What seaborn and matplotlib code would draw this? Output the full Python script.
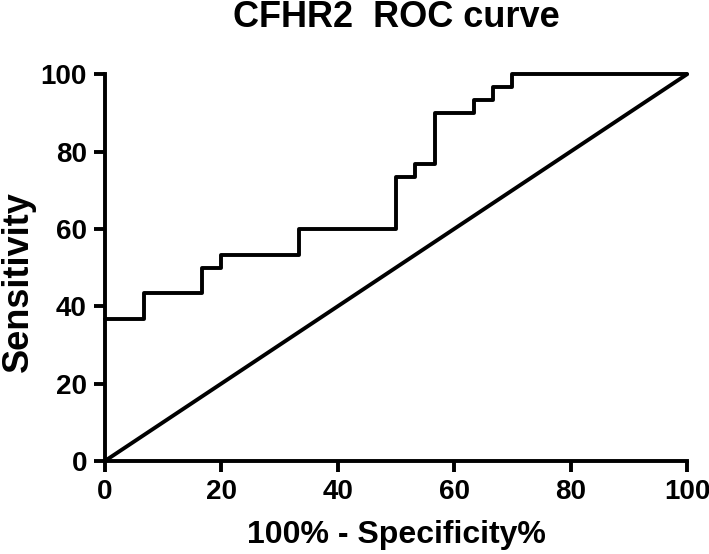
import matplotlib
matplotlib.use("Agg")
import seaborn as sns
from matplotlib import pyplot as plt

# ROC step curve for CFHR2
fpr = [0, 6.67, 16.67, 20, 33.33, 50, 53.33, 56.67, 63.33, 66.67, 70, 100]
tpr = [36.67, 43.33, 50, 53.33, 60, 73.33, 76.67, 90, 93.33, 96.67, 100, 100]
ref_x = [0, 100]
ref_y = [0, 100]
ticks = [0, 20, 40, 60, 80, 100]

sns.set_style("ticks")
plt.rcParams['font.family'] = ['Liberation Sans', 'DejaVu Sans']
plt.rcParams['font.weight'] = 'bold'
for key in ["text.color", "axes.labelcolor", "xtick.color", "ytick.color"]:
    plt.rcParams[key] = "black"

fig = plt.figure(figsize=(7.09, 5.54), dpi=100)
ax = fig.add_axes([0.148, 0.168, 0.821, 0.698])

lw = 2.8
sns.lineplot(x=fpr, y=tpr, ax=ax, color="black", linewidth=lw,
             drawstyle="steps-post", sort=False, estimator=None, clip_on=False)
sns.lineplot(x=ref_x, y=ref_y, ax=ax, color="black", linewidth=lw,
             sort=False, estimator=None, clip_on=False)

ax.set_xlim(0, 100)
ax.set_ylim(0, 100)
ax.set_xticks(ticks)
ax.set_yticks(ticks)
ax.tick_params(labelsize=20, width=lw, length=8, pad=5, color="black")
for lab in ax.get_xticklabels() + ax.get_yticklabels():
    lab.set_fontweight("bold")
for side in ["left", "bottom"]:
    ax.spines[side].set_linewidth(lw)
    ax.spines[side].set_color("black")
sns.despine(ax=ax)

ax.set_xlabel("100% - Specificity%", fontsize=23, fontweight="bold", labelpad=11)
ax.set_ylabel("Sensitivity", fontsize=26, fontweight="bold")
ax.yaxis.set_label_coords(-0.118, 0.465)
ax.set_title("CFHR2  ROC curve", fontsize=26, fontweight="bold", pad=34)

fig.savefig("out.png", dpi=100)
